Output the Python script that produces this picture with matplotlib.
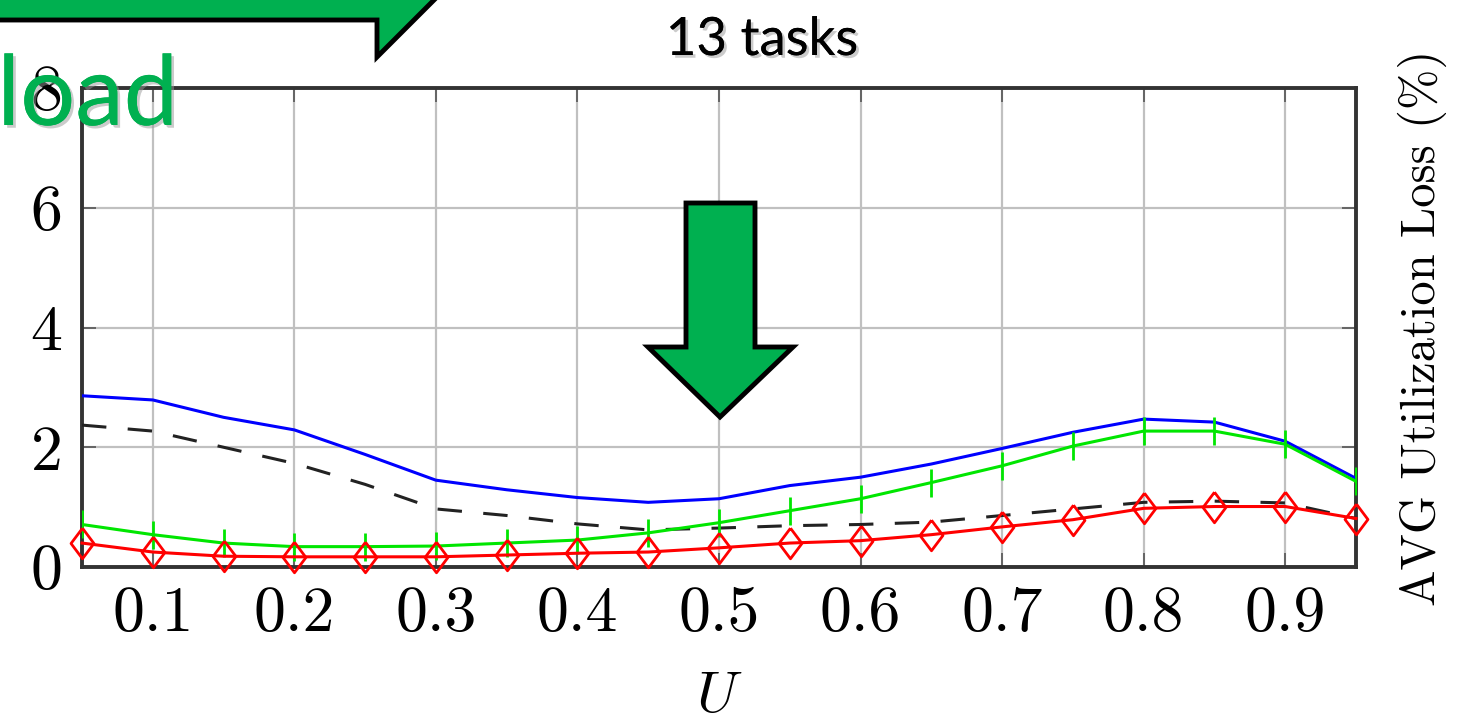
import matplotlib
matplotlib.use("Agg")
from matplotlib import pyplot as plt
from matplotlib.patches import Polygon
from matplotlib.transforms import IdentityTransform
from matplotlib import patheffects as pe

# utilisation points
u = [0.05, 0.10, 0.15, 0.20, 0.25, 0.30, 0.35, 0.40, 0.45, 0.50,
     0.55, 0.60, 0.65, 0.70, 0.75, 0.80, 0.85, 0.90, 0.95]

blue = [2.86, 2.79, 2.50, 2.29, 1.88, 1.45, 1.29, 1.16, 1.08, 1.14,
        1.36, 1.50, 1.72, 1.98, 2.25, 2.47, 2.42, 2.10, 1.48]
dashed = [2.37, 2.27, 2.00, 1.73, 1.38, 0.97, 0.86, 0.72, 0.62, 0.65,
          0.69, 0.71, 0.75, 0.86, 0.97, 1.08, 1.10, 1.07, 0.81]
green = [0.71, 0.54, 0.40, 0.34, 0.34, 0.35, 0.40, 0.45, 0.57, 0.74,
         0.94, 1.14, 1.41, 1.69, 2.02, 2.27, 2.27, 2.05, 1.43]
red = [0.40, 0.25, 0.18, 0.17, 0.17, 0.17, 0.20, 0.23, 0.25, 0.32,
       0.40, 0.44, 0.54, 0.67, 0.79, 0.98, 1.01, 1.01, 0.81]

xticks = [0.1, 0.2, 0.3, 0.4, 0.5, 0.6, 0.7, 0.8, 0.9]
yticks = [0, 2, 4, 6, 8]

plt.rcParams['mathtext.fontset'] = 'cm'

W, H = 1473, 727
fig = plt.figure(figsize=(W / 100, H / 100), dpi=100)
ax = fig.add_axes([82 / W, 1 - 567 / H, (1356 - 82) / W, (567 - 88) / H])

ax.plot(u, blue, color='#0000ff', lw=2.2, zorder=3)
ax.plot(u, dashed, color='#222222', lw=2.2, ls=(0, (8, 7)), zorder=3)
ax.plot(u, green, color='#00e600', lw=2.2, marker='|', ms=20, mew=2, zorder=4)
diamond = [(0, 1), (0.75, 0), (0, -1), (-0.75, 0), (0, 1)]
ax.plot(u, red, color='#ff0000', lw=2.2, marker=diamond, ms=22, mew=2,
        mfc='none', zorder=5, clip_on=False)

ax.set_xlim(0.05, 0.95)
ax.set_ylim(0, 8)
ax.set_xticks(xticks)
ax.set_xticklabels([f"{t:.1f}" for t in xticks], family='cmr10', fontsize=46)
ax.set_yticks(yticks)
ax.set_yticklabels([str(t) for t in yticks], family='cmr10', fontsize=46)
ax.tick_params(direction='in', length=10, width=1.2, color='#555555',
               top=True, right=True, pad=14)
ax.grid(True, color='#c0c0c0', lw=1.6)
ax.set_axisbelow(True)
for s in ax.spines.values():
    s.set_linewidth(2.8)
    s.set_color('#333333')

ax.set_xlabel('$U$', fontsize=42, labelpad=16)
ax.yaxis.set_label_position('right')
ax.set_ylabel('AVG Utilization Loss (%)', family='cmr10', fontsize=35,
              labelpad=30)

# overlay shapes (pixel coordinates, origin top-left)
def px(pts):
    return [(x, H - y) for x, y in pts]

green_fill = '#00b050'
top_arrow = Polygon(px([(-20, -60), (377, -60), (377, -140), (475, -41),
                        (377, 57), (377, 20), (-20, 20)]),
                    closed=True, fc=green_fill, ec='black', lw=3.5,
                    transform=IdentityTransform(), zorder=10)
fig.add_artist(top_arrow)

down_arrow = Polygon(px([(686, 203), (755, 203), (755, 347), (793, 347),
                         (720, 417), (648, 347), (686, 347)]),
                     closed=True, fc=green_fill, ec='black', lw=3.5,
                     transform=IdentityTransform(), zorder=10)
fig.add_artist(down_arrow)

shadow = [pe.withSimplePatchShadow(offset=(2, -2), shadow_rgbFace='#999999',
                                   alpha=0.5), pe.Normal()]
fig.text(178 / W, 1 - 125 / H, 'load', color=green_fill, fontsize=70,
         family='Lato', ha='right', va='baseline', zorder=11,
         path_effects=shadow)
fig.text(762 / W, 1 - 55 / H, '13 tasks', color='black', fontsize=38,
         family='Lato', ha='center', va='baseline', zorder=11,
         path_effects=shadow)

fig.savefig('out.png', dpi=100)
